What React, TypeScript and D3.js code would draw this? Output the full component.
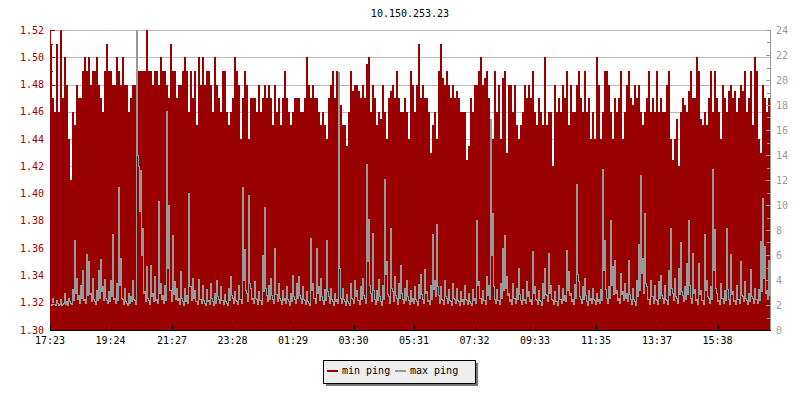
import React from "react";
import * as d3 from "d3";

const title = "10.150.253.23";
const timeLabels = ["17:23", "19:24", "21:27", "23:28", "01:29", "03:30", "05:31", "07:32", "09:33", "11:35", "13:37", "15:38"];
const minSampleMinutes = 4;
const minAxisTicks = [1.30, 1.32, 1.34, 1.36, 1.38, 1.40, 1.42, 1.44, 1.46, 1.48, 1.50, 1.52];
const maxAxisTicks = [0, 2, 4, 6, 8, 10, 12, 14, 16, 18, 20, 22, 24];
const legendLabels = ["min ping", "max ping"];

const minPing = [
  1.51,1.47,1.46,1.51,1.46,1.52,1.47,1.50,1.48,1.44,1.41,1.46,1.45,1.48,1.47,1.47,1.49,1.50,1.49,1.50,
  1.48,1.49,1.49,1.50,1.48,1.47,1.46,1.49,1.51,1.49,1.49,1.48,1.48,1.50,1.49,1.48,1.50,1.48,1.48,1.46,
  1.47,1.48,1.48,1.46,1.49,1.49,1.49,1.49,1.52,1.49,1.49,1.48,1.49,1.49,1.48,1.50,1.49,1.49,1.48,1.47,
  1.51,1.49,1.49,1.47,1.48,1.48,1.49,1.50,1.49,1.46,1.49,1.47,
  1.49,1.45,1.50,1.48,1.50,1.48,1.49,1.49,1.48,1.46,1.50,1.48,1.47,1.46,1.49,1.49,1.46,1.45,1.46,1.47,
  1.50,1.49,1.48,1.44,1.47,1.49,1.48,1.44,1.47,1.47,1.47,1.46,1.48,1.46,1.47,1.48,1.47,1.48,1.47,1.45,
  1.48,1.46,1.47,1.45,1.47,1.49,1.47,1.46,1.45,1.46,1.47,1.47,1.47,1.46,1.46,1.47,1.50,1.48,1.47,1.48,
  1.47,1.47,1.46,1.45,1.46,1.45,1.44,1.47,1.48,1.49,1.47,1.49,
  1.47,1.465,1.45,1.45,1.435,1.46,1.49,1.475,1.48,1.48,1.475,1.47,1.48,1.47,1.495,1.50,1.46,1.48,1.47,1.45,
  1.46,1.455,1.48,1.46,1.44,1.47,1.475,1.48,1.47,1.49,1.47,1.46,1.46,1.47,1.46,1.44,1.49,1.48,1.46,1.48,
  1.51,1.47,1.48,1.47,1.47,1.46,1.43,1.45,1.46,1.44,1.49,1.51,1.485,1.48,1.49,1.48,1.47,1.48,1.47,1.475,
  1.47,1.46,1.46,1.46,1.425,1.435,1.47,1.46,1.48,1.48,1.49,1.50,
  1.48,1.485,1.49,1.47,1.45,1.44,1.49,1.46,1.48,1.44,1.485,1.49,1.43,1.48,1.48,1.46,1.48,1.45,1.44,1.45,
  1.46,1.48,1.47,1.48,1.47,1.49,1.46,1.45,1.47,1.46,1.45,1.50,1.45,1.46,1.46,1.42,1.48,1.46,1.47,1.46,
  1.48,1.47,1.49,1.45,1.48,1.46,1.46,1.48,1.49,1.47,1.46,1.49,1.46,1.47,1.44,1.46,1.44,1.50,1.48,1.44,
  1.46,1.49,1.49,1.48,1.46,1.44,1.47,1.46,1.47,1.49,1.44,1.46,
  1.48,1.49,1.47,1.465,1.48,1.47,1.48,1.46,1.45,1.46,1.47,1.49,1.46,1.47,1.46,1.49,1.46,1.47,1.46,1.46,
  1.48,1.49,1.44,1.425,1.44,1.455,1.42,1.46,1.47,1.465,1.46,1.475,1.49,1.47,1.47,1.50,1.49,1.455,1.45,1.46,
  1.45,1.47,1.49,1.46,1.49,1.47,1.46,1.44,1.48,1.47,1.46,1.475,1.48,1.47,1.475,1.46,1.47,1.48,1.475,1.49,
  1.46,1.47,1.49,1.45,1.50,1.49,1.44,1.43,1.48,1.47,1.46,1.47
];

const maxPing = [
  2.2,2.0,2.6,2.1,2.1,2.0,2.4,2.2,2.0,2.1,2.5,2.0,2.1,2.2,3.0,2.1,2.3,2.0,2.6,2.3,
  2.2,2.1,3.3,2.4,7.2,3.0,4.2,2.5,2.8,2.2,3.6,2.6,4.8,2.4,2.5,2.2,6.1,2.8,5.5,2.9,
  3.0,2.3,4.2,2.5,2.3,2.1,3.2,2.4,4.8,2.6,5.7,3.1,3.5,2.4,4.1,2.6,2.4,2.2,3.1,2.3,
  4.0,2.7,7.7,2.5,2.6,2.2,3.8,2.4,11.4,3.6,5.8,2.6,2.5,2.1,3.4,2.3,2.2,2.0,3.0,2.2,
  2.7,2.3,4.0,2.5,2.4,2.1,24,14.0,13.1,9.5,12.8,6.0,8.2,3.0,3.1,2.3,5.1,2.6,2.4,2.1,
  5.2,2.7,3.0,2.3,4.3,2.4,2.5,2.2,10.3,3.0,3.8,2.5,2.8,2.2,3.6,2.4,17.5,5.0,10.0,3.2,
  3.2,2.3,7.6,2.9,3.9,2.5,3.4,2.4,2.6,2.1,4.7,2.6,2.3,2.0,3.4,2.3,2.8,2.2,11.0,3.5,
  3.5,2.4,4.2,2.6,
  3.2,2.3,2.3,2.1,4.1,2.5,2.5,2.2,3.6,2.4,2.2,2.0,3.3,2.3,2.4,2.1,3.8,2.6,2.3,2.0,
  3.0,2.2,4.0,2.7,2.5,2.2,3.5,2.4,2.4,2.1,2.9,2.3,2.2,2.0,3.4,2.4,4.3,2.8,2.6,2.2,
  3.1,2.4,2.3,2.1,3.6,2.5,2.5,2.2,11.4,4.0,6.5,3.2,3.0,2.3,10.8,3.8,3.4,2.5,2.6,2.2,
  3.9,2.6,2.5,2.1,3.1,2.4,2.4,2.1,6.0,3.1,9.8,3.4,2.8,2.3,3.6,2.5,4.2,2.8,2.5,2.2,
  6.6,2.9,2.9,2.3,3.8,2.6,2.4,2.1,3.2,2.4,2.6,2.2,3.5,2.5,2.3,2.0,3.0,2.3,4.4,2.7,
  2.5,2.2,3.8,2.6,4.3,2.8,2.6,2.2,3.5,2.5,2.4,2.1,3.1,2.3,2.2,2.0,7.4,3.2,3.8,2.6,
  2.6,2.2,6.6,3.0,3.5,2.4,4.2,2.7,2.4,2.1,3.3,2.4,7.2,3.1,2.7,2.2,3.4,2.5,2.3,2.0,
  3.0,2.3,2.5,2.2,
  20.6,5.0,2.6,2.2,3.4,2.5,2.3,2.0,2.9,2.3,2.2,2.0,3.8,2.6,2.5,2.2,4.0,2.7,3.2,2.4,
  2.4,2.1,3.5,2.5,4.2,2.8,2.6,2.2,13.3,5.5,8.9,3.6,3.0,2.3,7.8,3.2,2.5,2.1,3.2,2.4,
  4.1,2.7,2.3,2.0,3.6,2.5,12.1,4.5,5.5,2.9,2.7,2.2,8.2,3.4,3.1,2.3,4.3,2.8,2.6,2.1,
  3.8,2.6,5.2,3.0,2.5,2.2,3.4,2.4,4.0,2.7,2.4,2.1,3.2,2.3,2.6,2.2,3.5,2.5,2.3,2.0,
  3.7,2.6,4.5,2.9,2.5,2.2,4.9,3.0,3.1,2.3,2.4,2.1,3.6,2.5,7.7,3.3,4.0,2.7,8.5,3.5,
  2.8,2.2,3.5,2.5,2.4,2.1,4.0,2.7,2.6,2.2,3.3,2.4,2.3,2.0,3.8,2.6,2.5,2.2,3.4,2.4,
  2.3,2.0,3.1,2.3,2.5,2.1,3.6,2.5,2.4,2.1,3.0,2.3,2.2,2.0,3.3,2.4,2.6,2.2,8.8,3.6,
  3.9,2.6,2.6,2.2,
  3.2,2.4,2.4,2.1,4.3,2.8,3.6,2.5,16.9,6.0,9.4,3.5,2.5,2.2,3.3,2.4,2.4,2.1,3.8,2.6,
  6.6,3.2,7.6,3.4,4.3,2.8,3.0,2.3,2.5,2.1,3.8,2.6,2.6,2.2,3.4,2.5,5.0,2.9,2.4,2.1,
  3.3,2.4,2.5,2.2,3.9,2.7,3.1,2.3,2.5,2.1,6.3,3.0,3.5,2.5,2.4,2.1,3.2,2.4,2.3,2.0,
  3.8,2.6,5.0,2.9,2.8,2.3,6.2,3.0,3.6,2.5,2.4,2.1,3.1,2.3,2.3,2.0,3.6,2.5,2.5,2.2,
  3.4,2.4,2.8,2.3,6.4,3.2,4.7,2.8,3.0,2.3,2.5,2.1,3.7,2.6,11.7,4.5,3.9,2.7,2.5,2.2,
  3.5,2.5,4.2,2.8,2.3,2.0,3.2,2.4,2.6,2.2,3.4,2.5,2.4,2.1,3.0,2.3,2.5,2.2,3.3,2.4,
  12.9,4.8,7.2,3.3,2.6,2.2,3.5,2.6,8.8,3.6,5.1,2.9,5.6,3.0,3.2,2.4,2.6,2.2,4.6,2.9,
  3.1,2.4,3.8,2.6,
  3.0,2.3,5.6,2.9,2.5,2.1,3.4,2.5,2.3,2.0,4.0,2.7,6.9,3.2,12.4,4.6,5.8,3.0,9.4,3.8,
  3.5,2.5,2.5,2.1,4.0,2.7,2.7,2.2,3.6,2.5,2.4,2.1,3.9,2.6,4.4,2.8,2.6,2.2,3.6,2.5,
  2.4,2.1,4.8,2.8,8.2,3.4,3.0,2.4,4.2,2.7,2.6,2.2,5.0,2.9,7.0,3.1,2.8,2.3,3.5,2.5,
  5.4,2.9,8.8,3.6,2.6,2.2,6.2,3.0,3.3,2.4,2.5,2.1,5.4,2.9,3.2,2.4,2.4,2.1,7.7,3.2,
  4.0,2.7,2.6,2.2,3.5,2.5,12.9,4.8,8.1,3.4,3.0,2.3,2.4,2.1,3.8,2.6,2.6,2.2,3.2,2.4,
  8.2,3.3,2.5,2.1,6.1,2.9,3.1,2.3,2.4,2.1,3.6,2.5,2.5,2.2,5.5,2.8,2.7,2.3,3.9,2.6,
  2.4,2.1,3.0,2.3,4.9,2.7,2.6,2.2,3.4,2.5,2.5,2.2,3.3,2.4,7.1,3.1,10.6,4.2,6.7,3.0,
  3.2,2.5,5.6,2.8
];

const RED = "#990000";
const GREY = "#999999";
const FONT = "'DejaVu Sans Mono', monospace";

export default function App() {
  const left = 50, right = 770, top = 30, bottom = 330;
  const base = new Date(2000, 0, 1, 0, 0).getTime();
  let prev = -1;
  let dayOffset = 0;
  const tickTimes = timeLabels.map((l) => {
    const [h, m] = l.split(":").map(Number);
    let mins = h * 60 + m + dayOffset;
    if (mins < prev) { dayOffset += 1440; mins += 1440; }
    prev = mins;
    return new Date(base + mins * 60000);
  });
  const t0 = tickTimes[0].getTime();
  const tEnd = t0 + minPing.length * minSampleMinutes * 60000;

  const x = d3.scaleTime().domain([new Date(t0), new Date(tEnd)]).range([left, right]);
  const yL = d3.scaleLinear().domain([1.30, 1.52]).range([bottom, top]);
  const yR = d3.scaleLinear().domain([0, 24]).range([bottom, top]);

  const minPts = minPing.map((v, i) => ({ t: t0 + i * minSampleMinutes * 60000, v }));
  minPts.push({ t: tEnd, v: minPing[minPing.length - 1] });
  const area = d3.area<{ t: number; v: number }>()
    .x((d) => x(new Date(d.t)))
    .y0(bottom)
    .y1((d) => yL(d.v))
    .curve(d3.curveStepAfter);

  const maxStep = (tEnd - t0) / maxPing.length;
  const line = d3.line<number>()
    .x((_, i) => Math.round(x(new Date(t0 + i * maxStep))) + 0.5)
    .y((d) => Math.round(yR(d)) + 0.5)
    .curve(d3.curveStepAfter);

  const leftMinor: number[] = [];
  for (let i = 0; i < minAxisTicks.length - 1; i++) leftMinor.push((minAxisTicks[i] + minAxisTicks[i + 1]) / 2);
  const rightMinor: number[] = [];
  for (let i = 0; i < maxAxisTicks.length - 1; i++) rightMinor.push((maxAxisTicks[i] + maxAxisTicks[i + 1]) / 2);

  const lx = 323, ly = 360, lw = 152, lh = 23;

  return (
    <svg width={800} height={400} style={{ position: "absolute", left: 0, top: 0, background: "#fff" }} fontFamily={FONT} fontSize={10}>
      <defs>
        <clipPath id="plot"><rect x={left} y={top} width={right - left} height={bottom - top} /></clipPath>
      </defs>
      <text x={(left + right) / 2} y={17} textAnchor="middle" fill="#000">{title}</text>
      {minAxisTicks.filter((v) => v > 1.30).map((v) => (
        <line key={"g" + v} x1={left} x2={right} y1={Math.round(yL(v)) + 0.5} y2={Math.round(yL(v)) + 0.5} stroke="#bcbcbc" />
      ))}
      <g clipPath="url(#plot)">
        <path d={area(minPts) || ""} fill={RED} shapeRendering="crispEdges" />
        <path d={line(maxPing) || ""} fill="none" stroke={GREY} strokeWidth={1} shapeRendering="crispEdges" />
      </g>
      {/* left axis */}
      <line x1={left + 0.5} x2={left + 0.5} y1={top} y2={bottom} stroke={RED} />
      {minAxisTicks.map((v) => (
        <g key={"l" + v}>
          <line x1={left} x2={left + 5} y1={Math.round(yL(v)) + 0.5} y2={Math.round(yL(v)) + 0.5} stroke={RED} />
          <text x={44} y={yL(v) + 3.5} textAnchor="end" fill={RED}>{v.toFixed(2)}</text>
        </g>
      ))}
      {leftMinor.map((v) => (
        <line key={"lm" + v} x1={left} x2={left + 3} y1={Math.round(yL(v)) + 0.5} y2={Math.round(yL(v)) + 0.5} stroke={RED} />
      ))}
      {/* right axis */}
      <line x1={right + 0.5} x2={right + 0.5} y1={top} y2={bottom} stroke={GREY} />
      {maxAxisTicks.map((v) => (
        <g key={"r" + v}>
          <line x1={right - 4} x2={right} y1={Math.round(yR(v)) + 0.5} y2={Math.round(yR(v)) + 0.5} stroke={GREY} />
          <text x={776} y={yR(v) + 3.5} textAnchor="start" fill={GREY}>{v}</text>
        </g>
      ))}
      {rightMinor.map((v) => (
        <line key={"rm" + v} x1={right - 3} x2={right} y1={Math.round(yR(v)) + 0.5} y2={Math.round(yR(v)) + 0.5} stroke={GREY} />
      ))}
      {/* bottom axis */}
      <line x1={left} x2={right + 1} y1={bottom + 0.5} y2={bottom + 0.5} stroke="#000" />
      {tickTimes.map((t, i) => (
        <g key={"x" + i}>
          <line x1={Math.round(x(t)) + 0.5} x2={Math.round(x(t)) + 0.5} y1={bottom - 5} y2={bottom} stroke="#000" />
          <text x={x(t)} y={344} textAnchor="middle" fill="#000">{timeLabels[i]}</text>
        </g>
      ))}
      {/* legend */}
      <rect x={lx + 3} y={ly + 3} width={lw} height={lh} fill="#777" />
      <rect x={lx + 0.5} y={ly + 0.5} width={lw} height={lh} fill="#eeeeee" stroke="#000" />
      <line x1={327} x2={338} y1={371} y2={371} stroke={RED} strokeWidth={2} />
      <text x={342} y={374} fill="#000">{legendLabels[0]}</text>
      <line x1={395} x2={406} y1={371} y2={371} stroke={GREY} strokeWidth={2} />
      <text x={410} y={374} fill="#000">{legendLabels[1]}</text>
    </svg>
  );
}
